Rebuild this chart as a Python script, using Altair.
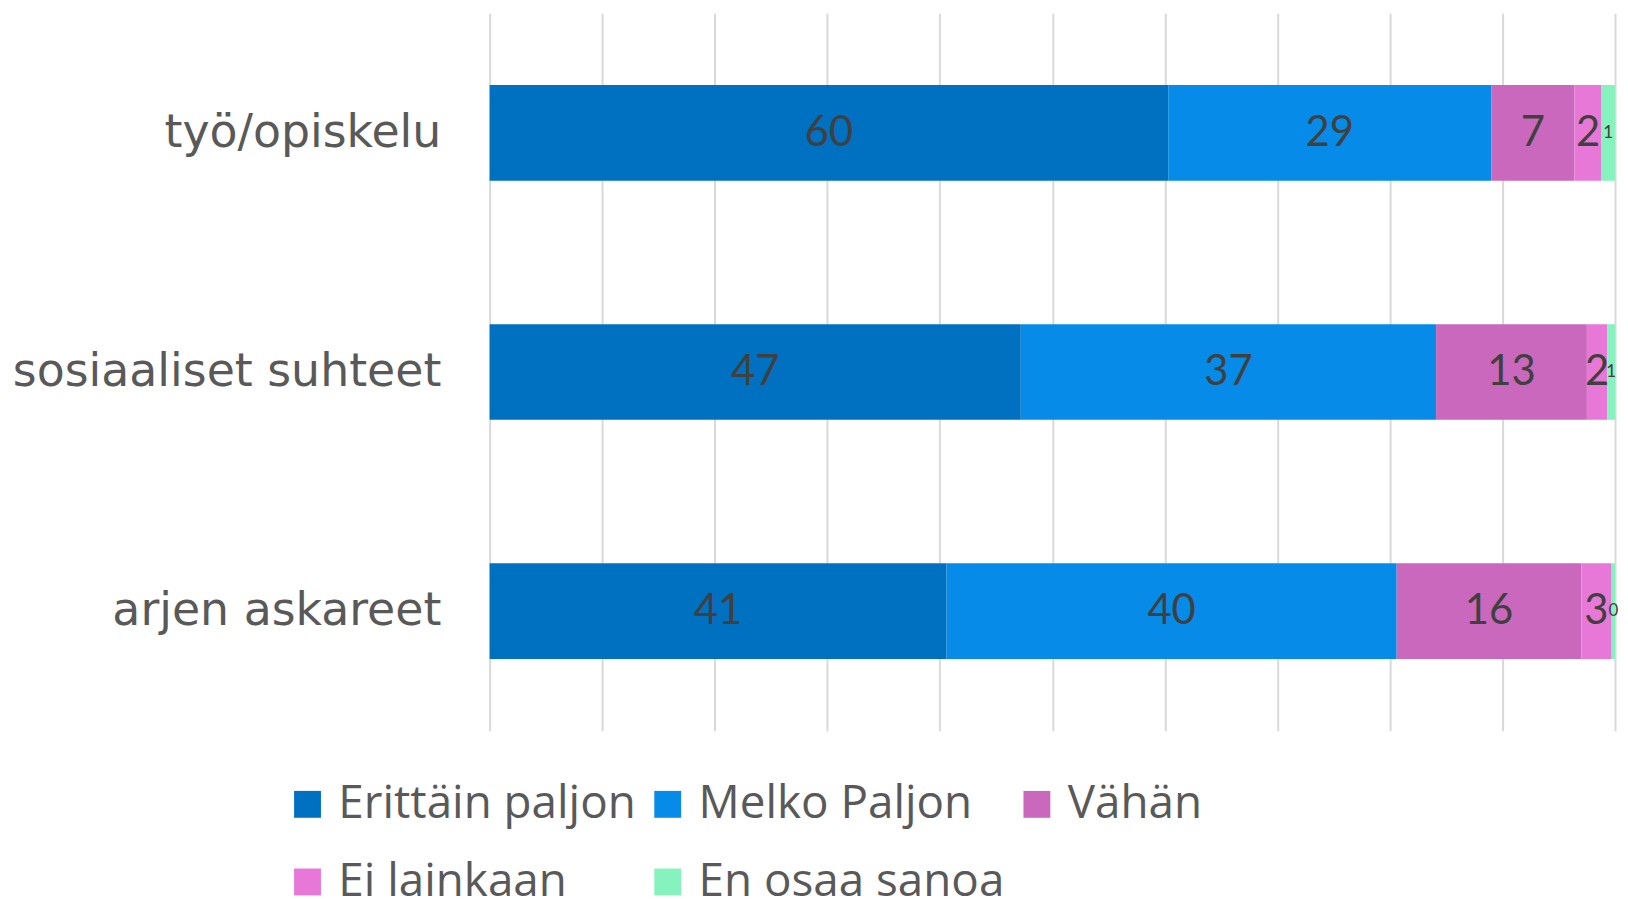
import altair as alt
import pandas as pd

categories = ["työ/opiskelu", "sosiaaliset suhteet", "arjen askareet"]
series = ["Erittäin paljon", "Melko Paljon", "Vähän", "Ei lainkaan", "En osaa sanoa"]
colors = ["#0070C0", "#068BE8", "#C968BC", "#E878D8", "#86F2BE"]
# percentages per category (order follows `series`)
values_tyo = [60.3, 28.7, 7.4, 2.4, 1.2]
values_sos = [47.2, 36.9, 13.4, 1.8, 0.7]
values_arki = [40.6, 40.0, 16.4, 2.7, 0.3]

rows = []
for cat, vals in zip(categories, [values_tyo, values_sos, values_arki]):
    for i, (s, v) in enumerate(zip(series, vals)):
        rows.append({"cat": cat, "series": s, "value": v, "order": i})
df = pd.DataFrame(rows)

LABEL_COLOR = "#595959"

base = alt.Chart(df).transform_stack(
    stack="value", groupby=["cat"], sort=[alt.SortField("order", "ascending")], as_=["x0", "x1"]
).transform_calculate(mid="(datum.x0 + datum.x1) / 2")

y_enc = alt.Y(
    "cat:N", sort=categories, title=None,
    scale=alt.Scale(paddingInner=0.6, paddingOuter=0.3),
    axis=alt.Axis(labelFont="DejaVu Sans", labelFontSize=46, labelColor=LABEL_COLOR,
                  ticks=False, domain=False, labelPadding=49, labelLimit=600),
)

bars = base.mark_bar().encode(
    y=y_enc,
    x=alt.X("x0:Q", title=None, scale=alt.Scale(domain=[0, 100], nice=False),
            axis=alt.Axis(values=list(range(0, 101, 10)), labels=False, ticks=False,
                          domain=False, grid=True, gridColor="#D9D9D9", gridWidth=2)),
    x2="x1:Q",
    color=alt.Color("series:N", sort=series,
                    scale=alt.Scale(domain=series, range=colors),
                    legend=alt.Legend(title=None, orient="none", legendX=-206, legendY=772,
                                      direction="horizontal",
                                      columns=3, symbolType="square", symbolSize=729,
                                      symbolStrokeWidth=0, labelFont="Open Sans", labelFontSize=46,
                                      labelColor=LABEL_COLOR, labelOffset=8, columnPadding=9,
                                      rowPadding=32, padding=0, labelLimit=600)),
)

labels = base.mark_text(font="Lato", color="#404040", baseline="middle", align="center").encode(
    y=alt.Y("cat:N", sort=categories),
    x=alt.X("mid:Q"),
    text=alt.Text("value:Q", format=".0f"),
    size=alt.condition(alt.datum.series == "En osaa sanoa", alt.value(17), alt.value(42)),
)

chart = (bars + labels).properties(
    width=1131, height=721,
    autosize=alt.AutoSizeParams(type="none"),
    padding={"left": 484, "top": 3, "right": 5, "bottom": 200},
).configure_view(stroke=None)

chart.save("out.html", embed_options={"renderer": "svg", "actions": False})
